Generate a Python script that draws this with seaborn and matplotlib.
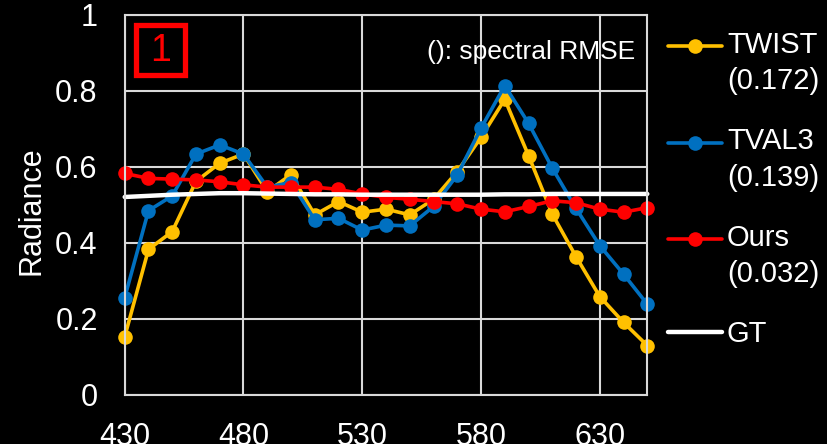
import numpy as np
import pandas as pd
import matplotlib
matplotlib.use('Agg')
import matplotlib.pyplot as plt
from matplotlib.patches import Rectangle
from matplotlib.legend_handler import HandlerLine2D
import seaborn as sns

# wavelengths (nm)
wavelength = [430, 440, 450, 460, 470, 480, 490, 500, 510, 520, 530, 540,
              550, 560, 570, 580, 590, 600, 610, 620, 630, 640, 650]

twist = [0.153, 0.383, 0.430, 0.562, 0.610, 0.634, 0.535, 0.580, 0.474, 0.509,
         0.481, 0.489, 0.474, 0.515, 0.588, 0.678, 0.778, 0.630, 0.476, 0.364,
         0.259, 0.191, 0.130]
tval3 = [0.256, 0.485, 0.524, 0.634, 0.658, 0.634, 0.547, 0.559, 0.461, 0.465,
         0.434, 0.447, 0.445, 0.496, 0.579, 0.702, 0.814, 0.715, 0.597, 0.491,
         0.393, 0.318, 0.239]
ours = [0.583, 0.570, 0.568, 0.566, 0.561, 0.553, 0.547, 0.547, 0.547, 0.541,
        0.529, 0.520, 0.515, 0.509, 0.503, 0.489, 0.482, 0.496, 0.511, 0.506,
        0.489, 0.481, 0.493]
gt = [0.521, 0.524, 0.527, 0.529, 0.531, 0.531, 0.530, 0.529, 0.528, 0.528,
      0.527, 0.527, 0.527, 0.527, 0.527, 0.527, 0.528, 0.528, 0.529, 0.529,
      0.529, 0.529, 0.529]

labels = ['TWIST\n(0.172)', 'TVAL3\n(0.139)', 'Ours\n(0.032)', 'GT']
colors = ['#FFC000', '#0070C0', '#FF0000', '#FFFFFF']

xticks = [430, 480, 530, 580, 630]
yticks = [0, 0.2, 0.4, 0.6, 0.8, 1]
ytick_labels = ['0', '0.2', '0.4', '0.6', '0.8', '1']

sns.set_style('dark')
plt.rcParams['font.family'] = ['Liberation Sans', 'DejaVu Sans']
plt.rcParams['text.color'] = 'white'
plt.rcParams['axes.labelcolor'] = 'white'
plt.rcParams['xtick.color'] = 'white'
plt.rcParams['ytick.color'] = 'white'

fig = plt.figure(figsize=(8.27, 4.44), dpi=100, facecolor='black')
ax = fig.add_axes([0.1508, 0.1104, 0.6319, 0.8559])
ax.set_facecolor('black')

series = [twist, tval3, ours]
for vals, lab, col in zip(series, labels[:3], colors[:3]):
    sns.lineplot(x=wavelength, y=vals, ax=ax, color=col, label=lab,
                 marker='o', markersize=10.5, markeredgewidth=0,
                 linewidth=2.6, clip_on=False)
sns.lineplot(x=wavelength, y=gt, ax=ax, color=colors[3], label=labels[3],
             linewidth=3.2, clip_on=False)

ax.set_xlim(430, 650)
ax.set_ylim(0, 1)
ax.set_xticks(xticks)
ax.set_yticks(yticks)
ax.set_yticklabels(ytick_labels)
ax.tick_params(axis='both', labelsize=22, length=6.5, width=1.5,
               color='#d9d9d9', pad=13, direction='out')
ax.grid(True, color='#d9d9d9', linewidth=1.5)
for s in ax.spines.values():
    s.set_visible(True)
    s.set_color('#d9d9d9')
    s.set_linewidth(1.5)
ax.set_axisbelow(True)

ax.set_xlabel('')
ax.set_ylabel('Radiance', fontsize=22)
ax.yaxis.set_label_coords(-0.15, 0.484)

ax.text(0.9765, 0.903, '(): spectral RMSE', transform=ax.transAxes,
        ha='right', va='center', fontsize=19, color='white')

ax.add_patch(Rectangle((0.0207, 0.8408), 0.0938, 0.1316, transform=ax.transAxes,
                       facecolor='black', edgecolor='#FF0000', linewidth=3.8,
                       zorder=5))
ax.text(0.0677, 0.906, '1', transform=ax.transAxes, ha='center', va='center',
        fontsize=27, color='#FF0000', zorder=6)


class FirstLineHandler(HandlerLine2D):
    # put the handle next to the first line of a two-line label
    def create_artists(self, legend, orig_handle, xdescent, ydescent,
                       width, height, fontsize, trans):
        arts = super().create_artists(legend, orig_handle, xdescent, ydescent,
                                      width, height, fontsize, trans)
        for a in arts:
            a.set_ydata(np.asarray(a.get_ydata()) + 12.6)
        return arts


handles, labs = ax.get_legend_handles_labels()
hmap = {h: FirstLineHandler() for h, l in zip(handles, labs) if '\n' in l}
leg = ax.legend(handles, labs, handler_map=hmap, loc='upper left',
                bbox_to_anchor=(0.8077, 0.93), bbox_transform=fig.transFigure,
                frameon=False, fontsize=21, borderpad=0, borderaxespad=0,
                handlelength=1.85, handletextpad=0.17, labelspacing=1.1,
                labelcolor='white')
for t in leg.get_texts():
    t.set_linespacing(1.375)

fig.savefig('out.png', dpi=100, facecolor='black')
